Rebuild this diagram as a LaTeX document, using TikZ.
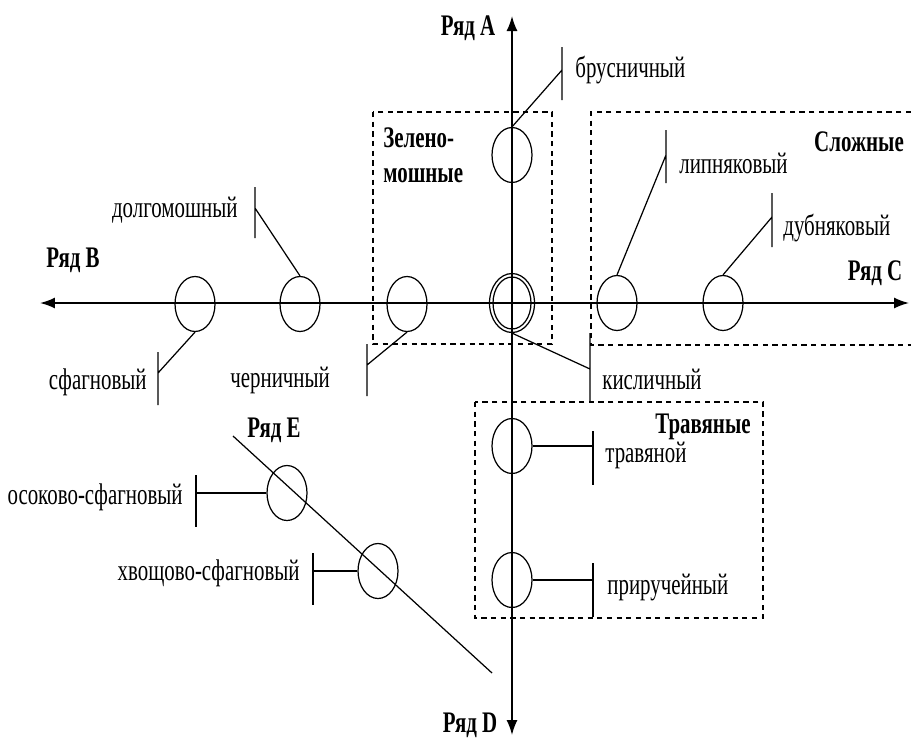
\documentclass[tikz,border=0pt]{standalone}
\usepackage{fontspec}
\setmainfont{Liberation Serif}[FakeStretch=0.7]
\usepackage{tikz}
\usetikzlibrary{arrows.meta, shapes.geometric, positioning}
\tikzset{
  axis/.style={{Latex[length=3mm,width=2.2mm]}-{Latex[length=3mm,width=2.2mm]}, line width=0.9pt},
  ring/.style={draw, ellipse, line width=0.7pt, minimum width=0.8cm, minimum height=1.1cm, inner sep=0pt},
  lead/.style={line width=0.7pt},
  group/.style={line width=0.9pt, dash pattern=on 3pt off 2.5pt},
  label/.style={font=\fontsize{17}{19}\selectfont, inner sep=0pt},
  title/.style={font=\fontsize{17}{19}\selectfont\bfseries, inner sep=0pt},
}

\begin{document}
\begin{tikzpicture}[x=0.02cm, y=-0.02cm]
  \useasboundingbox (0,0) rectangle (911,738);

  % groups
  \draw[group] (373,112) rectangle (552,344);
  \draw[group] (911,112) -- (591,112) -- (591,345) -- (911,345);
  \draw[group] (475,402) rectangle (763,618);
  \node[title, anchor=west, align=left] (zel) at (383,155) {Зелено-\\[1pt]мошные};
  \node[title] (slozh) at (859,142) {Сложные};
  \node[title] (travgr) at (703,427) {Травяные};

  % axes
  \coordinate (top) at (512,16);
  \coordinate (bottom) at (512,735);
  \coordinate (west) at (40,303);
  \coordinate (east) at (909,303);
  \coordinate (e start) at (233,436);
  \coordinate (e end) at (492,673);
  \draw[axis] (bottom) -- (top);
  \draw[axis] (west) -- (east);
  \draw[lead] (e start) -- (e end);
  \node[title] (ryad a) at (468,28) {Ряд A};
  \node[title] (ryad b) at (73,260) {Ряд B};
  \node[title] (ryad c) at (875,273) {Ряд C};
  \node[title] (ryad d) at (470,725) {Ряд D};
  \node[title] (ryad e) at (274,430) {Ряд E};

  % types
  \node[ring] (brus) at (512,155) {};
  \node[ring] (sfag) at (195,304) {};
  \node[ring] (dolg) at (300,304) {};
  \node[ring] (cher) at (407,304) {};
  \node[ring, minimum width=0.9cm, minimum height=1.18cm] (kisl) at (512,303) {};
  \node[ring, minimum width=0.76cm, minimum height=1.04cm] (kisl in) at (512,303) {};
  \node[ring] (lipn) at (617,303) {};
  \node[ring] (dubn) at (723,303) {};
  \node[ring] (trav) at (512,446) {};
  \node[ring] (prir) at (512,580) {};
  \node[ring] (osok) at (287,493) {};
  \node[ring] (hvos) at (378,571) {};

  % leaders
  \coordinate (brus j) at (562,70);
  \coordinate (sfag j) at (158,373);
  \coordinate (dolg j) at (255,208);
  \coordinate (cher j) at (367,365);
  \coordinate (kisl j) at (590,369);
  \coordinate (lipn j) at (666,155);
  \coordinate (dubn j) at (772,217);
  \coordinate (trav j) at (593,446);
  \coordinate (prir j) at (593,580);
  \coordinate (osok j) at (196,493);
  \coordinate (hvos j) at (313,571);

  \draw[lead] (brus.north) -- (brus j) ++(0,-23) -- ++(0,53);
  \draw[lead] (sfag.south) -- (sfag j) ++(0,-21) -- ++(0,53);
  \draw[lead] (dolg.north) -- (dolg j) ++(0,-21) -- ++(0,51);
  \draw[lead] (cher.south) -- (cher j) ++(0,-21) -- ++(0,52);
  \draw[lead] (kisl.south) -- (kisl j) ++(0,-36) -- ++(0,69);
  \draw[lead] (lipn.north) -- (lipn j) ++(0,-25) -- ++(0,53);
  \draw[lead] (dubn.north) -- (dubn j) ++(0,-24) -- ++(0,54);
  \draw[lead] (trav.east) -- (trav j) ++(0,-15) -- ++(0,54);
  \draw[lead] (prir.east) -- (prir j) ++(0,-17) -- ++(0,54);
  \draw[lead] (osok.west) -- (osok j) ++(0,-18) -- ++(0,52);
  \draw[lead] (hvos.west) -- (hvos j) ++(0,-18) -- ++(0,52);

  \node[label, anchor=west] (brus t) at (575,70) {брусничный};
  \node[label, anchor=east] (sfag t) at (147,382) {сфагновый};
  \node[label, anchor=east] (dolg t) at (238,210) {долгомошный};
  \node[label, anchor=west] (cher t) at (230,380) {черничный};
  \node[label, anchor=west] (kisl t) at (602,379) {кисличный};
  \node[label, anchor=west] (lipn t) at (679,163) {липняковый};
  \node[label, anchor=west] (dubn t) at (783,228) {дубняковый};
  \node[label, anchor=west] (trav t) at (605,455) {травяной};
  \node[label, anchor=west] (prir t) at (607,587) {приручейный};
  \node[label, anchor=east] (osok t) at (183,497) {осоково-сфагновый};
  \node[label, anchor=east] (hvos t) at (300,573) {хвощово-сфагновый};
\end{tikzpicture}
\end{document}
